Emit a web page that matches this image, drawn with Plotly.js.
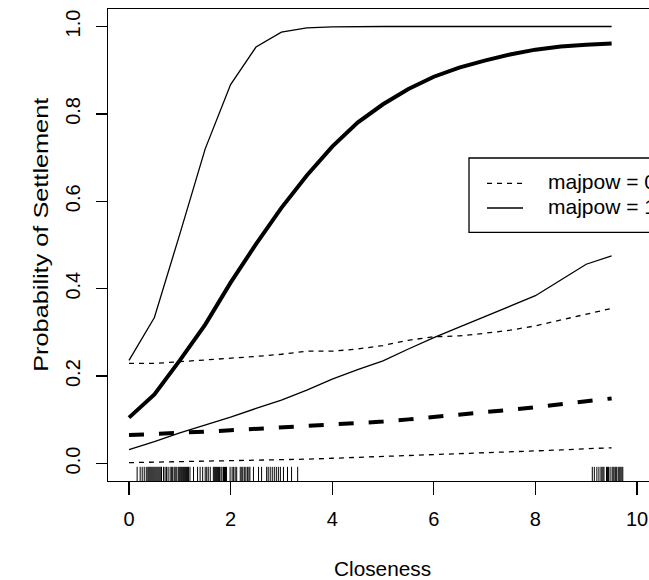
<!DOCTYPE html>
<html>
<head>
<meta charset="utf-8">
<script src="https://cdn.plot.ly/plotly-3.0.1.min.js"></script>
<style>
  html, body { margin: 0; padding: 0; background: #fff; overflow: hidden; }
  #chart { width: 649px; height: 580px; }
</style>
</head>
<body>
<div id="chart"></div>
<script>
// Closeness values at which the predicted probabilities were evaluated
const closeness = [0, 0.5, 1, 1.5, 2, 2.5, 3, 3.5, 4, 4.5, 5, 5.5, 6, 6.5, 7, 7.5, 8, 8.5, 9, 9.5];

// majpow = 1: point estimate and 95% band
const fit1   = [0.105, 0.158, 0.236, 0.318, 0.414, 0.502, 0.585, 0.659, 0.725, 0.780, 0.822, 0.857, 0.885, 0.906, 0.922, 0.936, 0.947, 0.954, 0.958, 0.961];
const upper1 = [0.236, 0.334, 0.525, 0.720, 0.867, 0.953, 0.987, 0.997, 0.999, 1.000, 1.000, 1.000, 1.000, 1.000, 1.000, 1.000, 1.000, 1.000, 1.000, 1.000];
const lower1 = [0.032, 0.050, 0.070, 0.088, 0.106, 0.126, 0.145, 0.168, 0.193, 0.215, 0.235, 0.262, 0.288, 0.312, 0.336, 0.360, 0.384, 0.420, 0.456, 0.475];

// majpow = 0: point estimate and 95% band
const fit0   = [0.065, 0.067, 0.070, 0.073, 0.076, 0.079, 0.082, 0.085, 0.089, 0.092, 0.096, 0.101, 0.106, 0.111, 0.117, 0.123, 0.129, 0.135, 0.142, 0.149];
const upper0 = [0.229, 0.229, 0.233, 0.237, 0.240, 0.245, 0.250, 0.257, 0.257, 0.262, 0.270, 0.282, 0.290, 0.292, 0.298, 0.305, 0.315, 0.328, 0.342, 0.355];
const lower0 = [0.002, 0.003, 0.004, 0.005, 0.006, 0.007, 0.009, 0.010, 0.012, 0.014, 0.016, 0.018, 0.020, 0.022, 0.025, 0.027, 0.029, 0.031, 0.034, 0.036];

// observed closeness values (rug)
const rugValues = [
  0.16, 0.22, 0.26, 0.30, 0.34, 0.37, 0.39, 0.41, 0.43, 0.45, 0.47, 0.49, 0.51, 0.53, 0.55,
  0.57, 0.59, 0.61, 0.63, 0.64, 0.68, 0.71, 0.74, 0.77, 0.81, 0.84, 0.86, 0.89, 0.91, 0.94,
  0.97, 0.99, 1.01, 1.03, 1.05, 1.07, 1.09, 1.11, 1.13, 1.15, 1.17, 1.20, 1.27, 1.35, 1.40,
  1.45, 1.50, 1.53, 1.56, 1.60, 1.66, 1.68, 1.70, 1.72, 1.74, 1.76, 1.78, 1.81, 1.83, 1.86,
  1.88, 1.90, 1.92, 1.99, 2.03, 2.06, 2.09, 2.12, 2.19, 2.22, 2.24, 2.27, 2.30, 2.33, 2.36,
  2.38, 2.45, 2.55, 2.61, 2.71, 2.74, 2.78, 2.82, 2.86, 2.90, 2.94, 2.98, 3.04, 3.12, 3.20,
  3.32,
  9.12, 9.16, 9.21, 9.25, 9.29, 9.31, 9.33, 9.35, 9.40, 9.42, 9.44, 9.47, 9.51, 9.53, 9.55,
  9.58, 9.60, 9.63, 9.65, 9.67, 9.70, 9.72
];

const xTicks = [0, 2, 4, 6, 8, 10];
const yTicks = [0, 0.2, 0.4, 0.6, 0.8, 1.0];
const legendLabels = ['majpow = 0', 'majpow = 1'];
const xTitle = 'Closeness';
const yTitle = 'Probability of Settlement';

const FONT = 'Liberation Sans, Arial, Helvetica, sans-serif';
const thin = 1.3, thick = 4;
const thinDash = '5px,5px', thickDash = '15px,15px';

function line(y, width, dash) {
  return {
    x: closeness, y: y, type: 'scatter', mode: 'lines', hoverinfo: 'skip',
    line: { color: '#000', width: width, dash: dash }, showlegend: false
  };
}

const traces = [
  line(upper0, thin, thinDash),
  line(lower0, thin, thinDash),
  line(fit0, thick, thickDash),
  line(upper1, thin, 'solid'),
  line(lower1, thin, 'solid'),
  line(fit1, thick, 'solid')
];

// rug ticks along the bottom of the panel
const shapes = rugValues.map(v => ({
  type: 'line', xref: 'x', yref: 'paper', x0: v, x1: v, y0: 0, y1: 0.03,
  line: { color: '#000', width: 1 }
}));

// legend box with line keys (runs off the right edge of the page)
shapes.push({
  type: 'rect', xref: 'paper', yref: 'paper', x0: 0.6673, x1: 1.1, y0: 0.5269, y1: 0.6843,
  line: { color: '#000', width: 1.3 }, fillcolor: '#fff', layer: 'above'
});
shapes.push({
  type: 'line', xref: 'paper', yref: 'paper', x0: 0.7006, x1: 0.7671, y0: 0.6307, y1: 0.6307,
  line: { color: '#000', width: thin, dash: thinDash }
});
shapes.push({
  type: 'line', xref: 'paper', yref: 'paper', x0: 0.7006, x1: 0.7671, y0: 0.5784, y1: 0.5784,
  line: { color: '#000', width: thin }
});

const annotations = legendLabels.map((t, i) => ({
  xref: 'paper', yref: 'paper', x: 0.8096, y: [0.6335, 0.5812][i],
  xanchor: 'left', yanchor: 'middle', showarrow: false, text: t,
  font: { family: FONT, size: 21, color: '#000' }
}));

// axis titles
annotations.push({
  xref: 'paper', yref: 'paper', x: 0.5065, y: -0.1848, xanchor: 'center', yanchor: 'middle',
  showarrow: false, text: xTitle, font: { family: FONT, size: 20.8, color: '#000' }
});
annotations.push({
  xref: 'paper', yref: 'paper', x: -0.124, y: 0.5222, xanchor: 'center', yanchor: 'middle',
  textangle: -90, showarrow: false, text: yTitle, font: { family: FONT, size: 19.5, color: '#000' }
});

const layout = {
  width: 649, height: 580,
  margin: { l: 108, r: 0, t: 9, b: 99, autoexpand: false },
  paper_bgcolor: '#fff', plot_bgcolor: '#fff',
  font: { family: FONT, size: 20, color: '#000' },
  showlegend: false,
  xaxis: {
    range: [-0.4134, 10.236], tickvals: xTicks, ticktext: xTicks.map(String),
    ticks: 'outside', ticklen: 13, tickwidth: 1.3, tickcolor: '#000',
    showline: true, linecolor: '#000', linewidth: 1.3, mirror: true,
    showgrid: false, zeroline: false, ticklabelstandoff: 7
  },
  yaxis: {
    range: [-0.04, 1.04], tickvals: yTicks, ticktext: yTicks.map(v => v.toFixed(1)),
    tickangle: -90,
    ticks: 'outside', ticklen: 11, tickwidth: 1.3, tickcolor: '#000',
    showline: true, linecolor: '#000', linewidth: 1.3, mirror: false,
    showgrid: false, zeroline: false, ticklabelstandoff: 8
  },
  shapes: shapes,
  annotations: annotations
};

Plotly.newPlot('chart', traces, layout, { displayModeBar: false, staticPlot: true }).then(gd => {
  // the vertical label is set in a wide, long run of text
  gd.querySelectorAll('.annotation-text').forEach(node => {
    if (node.textContent === yTitle) {
      node.setAttribute('textLength', 274);
      node.setAttribute('lengthAdjust', 'spacingAndGlyphs');
    }
  });
});
</script>
</body>
</html>
